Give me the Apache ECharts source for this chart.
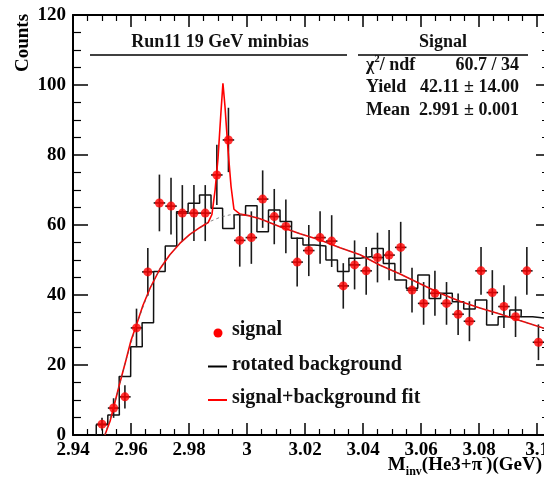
<!DOCTYPE html>
<html>
<head>
<meta charset="utf-8">
<script src="https://cdn.jsdelivr.net/npm/echarts@6/dist/echarts.min.js"></script>
<style>
html,body{margin:0;padding:0;background:#fff;}
#chart{width:544px;height:482px;}
</style>
</head>
<body>
<div id="chart"></div>
<script>
// ---- data ----
const binCenters = [2.9500, 2.9540, 2.9579, 2.9619, 2.9658, 2.9698, 2.9738, 2.9777, 2.9817, 2.9856,
  2.9896, 2.9936, 2.9975, 3.0015, 3.0054, 3.0094, 3.0134, 3.0173, 3.0213, 3.0252,
  3.0292, 3.0332, 3.0371, 3.0411, 3.0450, 3.0490, 3.0530, 3.0569, 3.0609, 3.0648,
  3.0688, 3.0728, 3.0767, 3.0807, 3.0846, 3.0886, 3.0926, 3.0965, 3.1005];
const signalCounts = [3.1, 7.7, 10.9, 30.6, 46.6, 66.3, 65.4, 63.4, 63.4, 63.4,
  74.3, 84.3, 55.6, 56.4, 67.4, 62.4, 59.6, 49.4, 52.7, 56.4,
  55.4, 42.6, 48.6, 46.9, 50.7, 51.4, 53.6, 41.4, 37.6, 40.5,
  37.6, 34.5, 32.5, 46.9, 40.7, 36.7, 33.8, 46.9, 26.5];
const signalErrors = [1.8, 2.8, 3.3, 5.5, 6.8, 8.1, 8.1, 8.0, 8.0, 8.0,
  8.6, 9.2, 7.5, 7.5, 8.2, 7.9, 7.7, 7.0, 7.3, 7.5,
  7.4, 6.5, 7.0, 6.8, 7.1, 7.2, 7.3, 6.4, 6.1, 6.4,
  6.1, 5.9, 5.7, 6.8, 6.4, 6.1, 5.8, 6.8, 5.1];
const rotatedBackground = [2.9, 5.7, 16.7, 25.2, 32.1, 46.7, 54, 63.8, 66.2, 68.6,
  64.8, 59, 62.9, 65.5, 58.1, 64.3, 61, 56.2, 54.3, 54,
  50, 46.7, 50.5, 51, 53.3, 49, 44.3, 41.9, 45.7, 39,
  40.5, 38.1, 36, 38.6, 31.4, 33.8, 35.7, 33.8, 33.4];
const fitX = [2.9510, 2.9528, 2.9545, 2.9562, 2.9583, 2.9600, 2.9621, 2.9641, 2.9666, 2.9700,
  2.9734, 2.9769, 2.9803, 2.9838, 2.9866, 2.9879, 2.9890, 2.9900, 2.9910, 2.9917,
  2.9924, 2.9934, 2.9945, 2.9955, 2.9976, 3.0010, 3.0045, 3.0114, 3.0183, 3.0252,
  3.0321, 3.0390, 3.0459, 3.0528, 3.0597, 3.0666, 3.0734, 3.0803, 3.0872, 3.0941, 3.1024];
const fitY = [0, 4, 9.5, 15, 21.5, 27, 32, 37, 42, 47.5,
  51.5, 54.8, 57.3, 59.3, 60.7, 63, 70, 79, 92, 100.5,
  94, 82, 71, 64.5, 63.1, 62.6, 61.8, 59.5, 57.5, 55.7,
  53.5, 51.5, 48.5, 46, 43.2, 40.5, 38.2, 36.3, 34.6, 32.7, 30.5];
const bkgX = [2.9510, 2.9545, 2.9583, 2.9621, 2.9666, 2.9700, 2.9734, 2.9769, 2.9803, 2.9838,
  2.9872, 2.9907, 2.9941, 2.9976, 3.0010, 3.0045, 3.0114, 3.0183, 3.0252, 3.0321,
  3.0390, 3.0459, 3.0528, 3.0597, 3.0666, 3.0734, 3.0803, 3.0872, 3.0941, 3.1024];
const bkgY = [0, 9.5, 21.5, 32, 42, 47.5, 51.5, 54.8, 57.3, 59.3,
  61.0, 62.2, 62.9, 63.1, 62.6, 61.8, 59.5, 57.5, 55.7, 53.5,
  51.5, 48.5, 46, 43.2, 40.5, 38.2, 36.3, 34.6, 32.7, 30.5];
const xTickMin = 2.94, xTickStep = 0.02;
const yTickMin = 0, yTickMax = 120, yTickStep = 20;
const statsLabels = ['{t|χ}{sp|2}{t|/ ndf}', '{t|Yield}', '{t|Mean}'];
const statsValues = ['60.7 / 34', '42.11 ± 14.00', '2.991 ± 0.001'];
const legendLabels = ['signal', 'rotated background', 'signal+background fit'];
const headerLeft = 'Run11 19 GeV minbias';
const headerRight = 'Signal';

// ---- build ----
const FONT = '"Liberation Serif", "DejaVu Serif", serif';
const binW = (binCenters[binCenters.length - 1] - binCenters[0]) / (binCenters.length - 1);
const halfW = binW / 2;

const stepData = [];
stepData.push([binCenters[0] - halfW, 0]);
binCenters.forEach((c, i) => {
  stepData.push([c - halfW, rotatedBackground[i]]);
  stepData.push([c + halfW, rotatedBackground[i]]);
});
const pointData = binCenters.map((c, i) => [c, signalCounts[i]]);
const errData = binCenters.map((c, i) => [c, signalCounts[i], signalErrors[i]]);
const fitData = fitX.map((x, i) => [x, fitY[i]]);
const bkgData = bkgX.map((x, i) => [x, bkgY[i]]);

const chart = echarts.init(document.getElementById('chart'), null, {renderer: 'canvas'});

const axisLineStyle = {color: '#000', width: 2};
const labelStyle = {color: '#000', fontFamily: FONT, fontWeight: 'bold', fontSize: 19};

const option = {
  animation: false,
  backgroundColor: '#fff',
  grid: [
    {left: 73, top: 15, width: 522, height: 420, containLabel: false, outerBoundsMode: 'none'},
    {left: 73, top: 15, width: 476, height: 420, containLabel: false, outerBoundsMode: 'none'}
  ],
  xAxis: [{
    type: 'value', gridIndex: 0, position: 'bottom', min: xTickMin, max: 3.12, interval: xTickStep,
    axisLine: {show: true, onZero: false, lineStyle: axisLineStyle},
    axisTick: {show: true, inside: true, length: 12, lineStyle: {color: '#000', width: 1.5}},
    minorTick: {show: true, splitNumber: 4, length: 6, lineStyle: {color: '#000', width: 1.2}},
    splitLine: {show: false},
    axisLabel: Object.assign({margin: 6, showMaxLabel: false, hideOverlap: false,
      formatter: v => String(parseFloat(v.toFixed(2)))}, labelStyle)
  }, {
    type: 'value', gridIndex: 0, position: 'top', min: xTickMin, max: 3.12, interval: xTickStep,
    axisLine: {show: true, onZero: false, lineStyle: axisLineStyle},
    axisTick: {show: true, inside: true, length: 12, lineStyle: {color: '#000', width: 1.5}},
    minorTick: {show: true, splitNumber: 4, length: 6, lineStyle: {color: '#000', width: 1.2}},
    splitLine: {show: false},
    axisLabel: {show: false}
  }, {
    type: 'value', gridIndex: 1, min: 0, max: 1, position: 'bottom',
    axisLine: {show: false}, axisTick: {show: false}, axisLabel: {show: false}, splitLine: {show: false}
  }],
  yAxis: [{
    type: 'value', gridIndex: 0, position: 'left', min: yTickMin, max: yTickMax, interval: yTickStep,
    axisLine: {show: true, onZero: false, lineStyle: axisLineStyle},
    axisTick: {show: true, inside: true, length: 15, lineStyle: {color: '#000', width: 1.5}},
    minorTick: {show: true, splitNumber: 4, length: 8, lineStyle: {color: '#000', width: 1.2}},
    splitLine: {show: false},
    axisLabel: Object.assign({margin: 7}, labelStyle)
  }, {
    type: 'value', gridIndex: 1, position: 'right', min: yTickMin, max: yTickMax, interval: yTickStep,
    axisLine: {show: true, onZero: false, lineStyle: axisLineStyle},
    axisTick: {show: true, inside: true, length: 13, lineStyle: {color: '#000', width: 1.5}},
    minorTick: {show: true, splitNumber: 4, length: 7, lineStyle: {color: '#000', width: 1.2}},
    splitLine: {show: false},
    axisLabel: {show: false}
  }],
  series: [{
    name: 'rotated background', type: 'line', data: stepData, showSymbol: false, z: 2,
    xAxisIndex: 0, yAxisIndex: 0, lineStyle: {color: '#111', width: 1.5}, clip: true
  }, {
    name: 'errors', type: 'custom', z: 3, clip: true, data: errData, xAxisIndex: 0, yAxisIndex: 0,
    renderItem: function (params, api) {
      const x = api.value(0), y = api.value(1), e = api.value(2);
      const p0 = api.coord([x, Math.max(0, y - e)]);
      const p1 = api.coord([x, y + e]);
      const l = api.coord([x - halfW, y]);
      const r = api.coord([x + halfW, y]);
      return {type: 'group', children: [
        {type: 'line', shape: {x1: p0[0], y1: p0[1], x2: p1[0], y2: p1[1]}, style: {stroke: '#1a1a1a', lineWidth: 1.6}},
        {type: 'line', shape: {x1: l[0], y1: l[1], x2: r[0], y2: r[1]}, style: {stroke: '#1a1a1a', lineWidth: 1.6}}
      ]};
    }
  }, {
    name: 'signal+background fit', type: 'line', data: fitData, showSymbol: false, z: 4,
    xAxisIndex: 0, yAxisIndex: 0, lineStyle: {color: '#ff0000', width: 1.6}, clip: true
  }, {
    name: 'background', type: 'line', data: bkgData, showSymbol: false, z: 5,
    xAxisIndex: 0, yAxisIndex: 0, lineStyle: {color: '#555', width: 1, type: [3, 3], opacity: 0.7}, clip: true
  }, {
    name: 'signal', type: 'scatter', data: pointData, z: 6, symbol: 'circle', symbolSize: 9,
    xAxisIndex: 0, yAxisIndex: 0, itemStyle: {color: '#ff0000'}
  }, {
    name: 'frame', type: 'scatter', data: [], xAxisIndex: 2, yAxisIndex: 1, silent: true
  }],
  graphic: [
    {type: 'text', x: 23, y: 43, rotation: Math.PI / 2, style: {text: 'Counts', font: 'bold 19px ' + FONT, fill: '#000', align: 'center', verticalAlign: 'middle'}},
    {type: 'text', x: 542, y: 465, style: {
      text: '{a|M}{s|inv}{a|(He3+π}{p|-}{a|)(GeV)}', align: 'right', verticalAlign: 'middle', fill: '#000',
      rich: {
        a: {fontFamily: FONT, fontWeight: 'bold', fontSize: 19, lineHeight: 26, verticalAlign: 'middle', fill: '#000'},
        s: {fontFamily: FONT, fontWeight: 'bold', fontSize: 12, lineHeight: 26, verticalAlign: 'bottom', fill: '#000'},
        p: {fontFamily: FONT, fontWeight: 'bold', fontSize: 12, lineHeight: 26, verticalAlign: 'top', fill: '#000'}
      }}},
    {type: 'text', x: 220, y: 42, style: {text: headerLeft, font: 'bold 18px ' + FONT, fill: '#111', align: 'center', verticalAlign: 'middle'}},
    {type: 'line', shape: {x1: 90, y1: 55, x2: 347, y2: 55}, style: {stroke: '#000', lineWidth: 1.5}},
    {type: 'text', x: 443, y: 42, style: {text: headerRight, font: 'bold 18px ' + FONT, fill: '#111', align: 'center', verticalAlign: 'middle'}},
    {type: 'line', shape: {x1: 358, y1: 55, x2: 528, y2: 55}, style: {stroke: '#000', lineWidth: 1.5}},
    ...statsLabels.map((t, i) => ({type: 'text', x: 366, y: 65 + i * 22.5, style: {
      text: t, align: 'left', verticalAlign: 'middle', fill: '#111',
      rich: {
        t: {fontFamily: FONT, fontWeight: 'bold', fontSize: 18, lineHeight: 22, verticalAlign: 'middle', fill: '#111'},
        sp: {fontFamily: FONT, fontWeight: 'bold', fontSize: 11, lineHeight: 22, verticalAlign: 'top', fill: '#111'}
      }}})),
    ...statsValues.map((t, i) => ({type: 'text', x: 519, y: 65 + i * 22.5, style: {
      text: t, font: 'bold 18px ' + FONT, fill: '#111', align: 'right', verticalAlign: 'middle'}})),
    {type: 'circle', shape: {cx: 218, cy: 333, r: 4.5}, style: {fill: '#ff0000'}},
    {type: 'line', shape: {x1: 208, y1: 366.5, x2: 227, y2: 366.5}, style: {stroke: '#000', lineWidth: 2}},
    {type: 'line', shape: {x1: 208, y1: 400, x2: 227, y2: 400}, style: {stroke: '#ff0000', lineWidth: 2}},
    ...legendLabels.map((t, i) => ({type: 'text', x: 232, y: [330, 365, 398][i], style: {
      text: t, font: 'bold 20px ' + FONT, fill: '#111', align: 'left', verticalAlign: 'middle'}}))
  ]
};
chart.setOption(option);
</script>
</body>
</html>
